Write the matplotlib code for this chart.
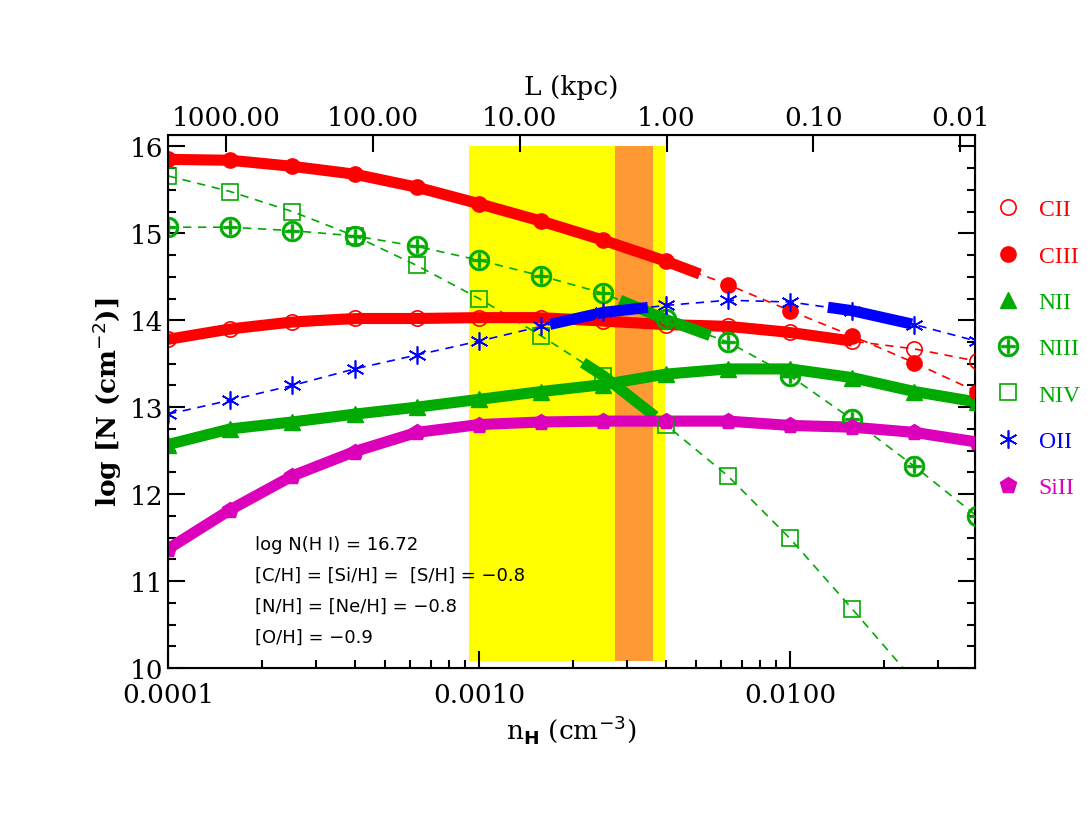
import numpy as np
import matplotlib
matplotlib.use("Agg")
import matplotlib.pyplot as plt
from matplotlib.ticker import FixedLocator, NullFormatter

# Model grid: log n_H from -4.0 to -1.4 in 0.2 dex steps
log_nh = np.arange(-4.0, -1.39, 0.2)
nh = 10 ** log_nh

# log column densities
CII  = [13.78, 13.90, 13.98, 14.02, 14.02, 14.03, 14.03, 13.99, 13.95, 13.93, 13.86, 13.76, 13.67, 13.53]
CIII = [15.85, 15.84, 15.77, 15.68, 15.53, 15.34, 15.14, 14.92, 14.68, 14.41, 14.11, 13.82, 13.51, 13.18]
NII  = [12.57, 12.75, 12.83, 12.92, 13.00, 13.09, 13.18, 13.26, 13.38, 13.44, 13.44, 13.34, 13.18, 13.06]
NIII = [15.07, 15.07, 15.03, 14.97, 14.85, 14.69, 14.51, 14.31, 14.01, 13.75, 13.36, 12.86, 12.32, 11.75]
NIV  = [15.66, 15.48, 15.25, 14.97, 14.63, 14.25, 13.82, 13.36, 12.80, 12.21, 11.49, 10.68, 9.85]
OII  = [12.92, 13.08, 13.25, 13.44, 13.60, 13.76, 13.93, 14.09, 14.17, 14.23, 14.21, 14.11, 13.95, 13.76]
SiII = [11.37, 11.82, 12.21, 12.49, 12.71, 12.80, 12.83, 12.84, 12.84, 12.84, 12.79, 12.77, 12.71, 12.60]

# thick (matched) ranges in log n_H per ion
thick = {
    "CII": [(-4.0, -1.8)],
    "CIII": [(-4.0, -2.29)],
    "NII": [(-4.0, -1.4)],
    "NIII": [(-2.547, -2.257)],
    "NIV": [(-2.666, -2.434)],
    "OII": [(-2.772, -2.457), (-1.878, -1.608)],
    "SiII": [(-4.0, -1.4)],
}

# shaded density ranges (log n_H)
yellow_band = (-3.032, -2.402)
orange_band = (-2.563, -2.44)

# top axis: L (kpc) tick labels and matching log n_H
L_labels = ["1000.00", "100.00", "10.00", "1.00", "0.10", "0.01"]
L_lognh = [-3.813, -3.341, -2.869, -2.397, -1.925, -1.453]

RED, GREEN, BLUE, MAG = "#ff0000", "#00aa00", "#0000ff", "#dd00bb"

ions = [
    ("CII", CII, RED, dict(marker="o", mfc="none", ms=11, mew=1.2)),
    ("CIII", CIII, RED, dict(marker="o", mfc=RED, ms=11)),
    ("NII", NII, GREEN, dict(marker="^", mfc=GREEN, ms=12)),
    ("NIII", NIII, GREEN, dict(marker=r"$\oplus$", ms=15, mew=0.5)),
    ("NIV", NIV, GREEN, dict(marker="s", mfc="none", ms=11, mew=1.2)),
    ("OII", OII, BLUE, dict(marker=(6, 2, 0), ms=13, mew=1.2)),
    ("SiII", SiII, MAG, dict(marker="p", mfc=MAG, ms=12)),
]

plt.rcParams["font.family"] = ["DejaVu Serif"]
fig = plt.figure(figsize=(10.91, 8.28), dpi=100)
ax = fig.add_axes([0.154, 0.192, 0.7397, 0.6437])

ax.axvspan(10 ** yellow_band[0], 10 ** yellow_band[1], ymin=0.0125, ymax=0.979, color="#ffff00", lw=0, zorder=0)
ax.axvspan(10 ** orange_band[0], 10 ** orange_band[1], ymin=0.0125, ymax=0.979, color="#ff9933", lw=0, zorder=0)

handles = []
for name, vals, col, mk in ions:
    x = nh[:len(vals)]
    ax.plot(x, vals, ls="--", lw=1.2, color=col, dashes=(5, 4), zorder=2)
    for lo, hi in thick[name]:
        xs = np.linspace(lo, hi, 40)
        ys = np.interp(xs, log_nh[:len(vals)], vals)
        ax.plot(10 ** xs, ys, color=col, lw=8, solid_capstyle="butt", zorder=3)
    h, = ax.plot(x, vals, ls="none", color=col, mec=col, zorder=4, **mk)
    handles.append(h)

ax.set_xscale("log")
ax.set_xlim(1e-4, 10 ** -1.405)
ax.set_ylim(10, 16.13)
ax.set_xticks([1e-4, 1e-3, 1e-2])
ax.set_xticklabels(["0.0001", "0.0010", "0.0100"])
ax.yaxis.set_major_locator(FixedLocator([10, 11, 12, 13, 14, 15, 16]))
ax.yaxis.set_minor_locator(FixedLocator(np.arange(10, 16.2, 0.25)))
ax.tick_params(which="both", direction="in", right=True, labelsize=19, width=1.5)
ax.tick_params(which="major", length=12)
ax.tick_params(which="minor", length=6)
ax.tick_params(axis="x", pad=10)
for s in ax.spines.values():
    s.set_linewidth(1.5)

top = ax.twiny()
top.set_xscale("log")
top.set_xlim(ax.get_xlim())
top.set_xticks([10 ** v for v in L_lognh])
top.set_xticklabels(L_labels)
top.xaxis.set_minor_formatter(NullFormatter())
top.tick_params(which="major", direction="in", length=12, width=1.5, labelsize=19)
top.tick_params(which="minor", length=0)
top.set_xlabel("L (kpc)", fontsize=19, labelpad=8)

ax.set_xlabel(r"n$_\mathbf{H}$ (cm$^{-3}$)", fontsize=19)
ax.set_ylabel(r"log [N (cm$^{-2}$)]", fontsize=19, fontweight="bold")

notes = ["log N(H I) = 16.72", "[C/H] = [Si/H] =  [S/H] = \u22120.8",
         "[N/H] = [Ne/H] = \u22120.8", "[O/H] = \u22120.9"]
for i, t in enumerate(notes):
    ax.text(0.108, 0.233 - i * 0.058, t, transform=ax.transAxes, fontsize=13,
            family="DejaVu Sans", va="center", zorder=5)

leg = ax.legend(handles, [i[0] for i in ions], loc="upper left", bbox_to_anchor=(1.0, 0.92),
                frameon=False, fontsize=16, labelspacing=1.05, handlelength=1.0,
                labelcolor=[i[2] for i in ions], prop={"family": "Liberation Serif", "size": 17})

fig.savefig("out.png", dpi=100)
